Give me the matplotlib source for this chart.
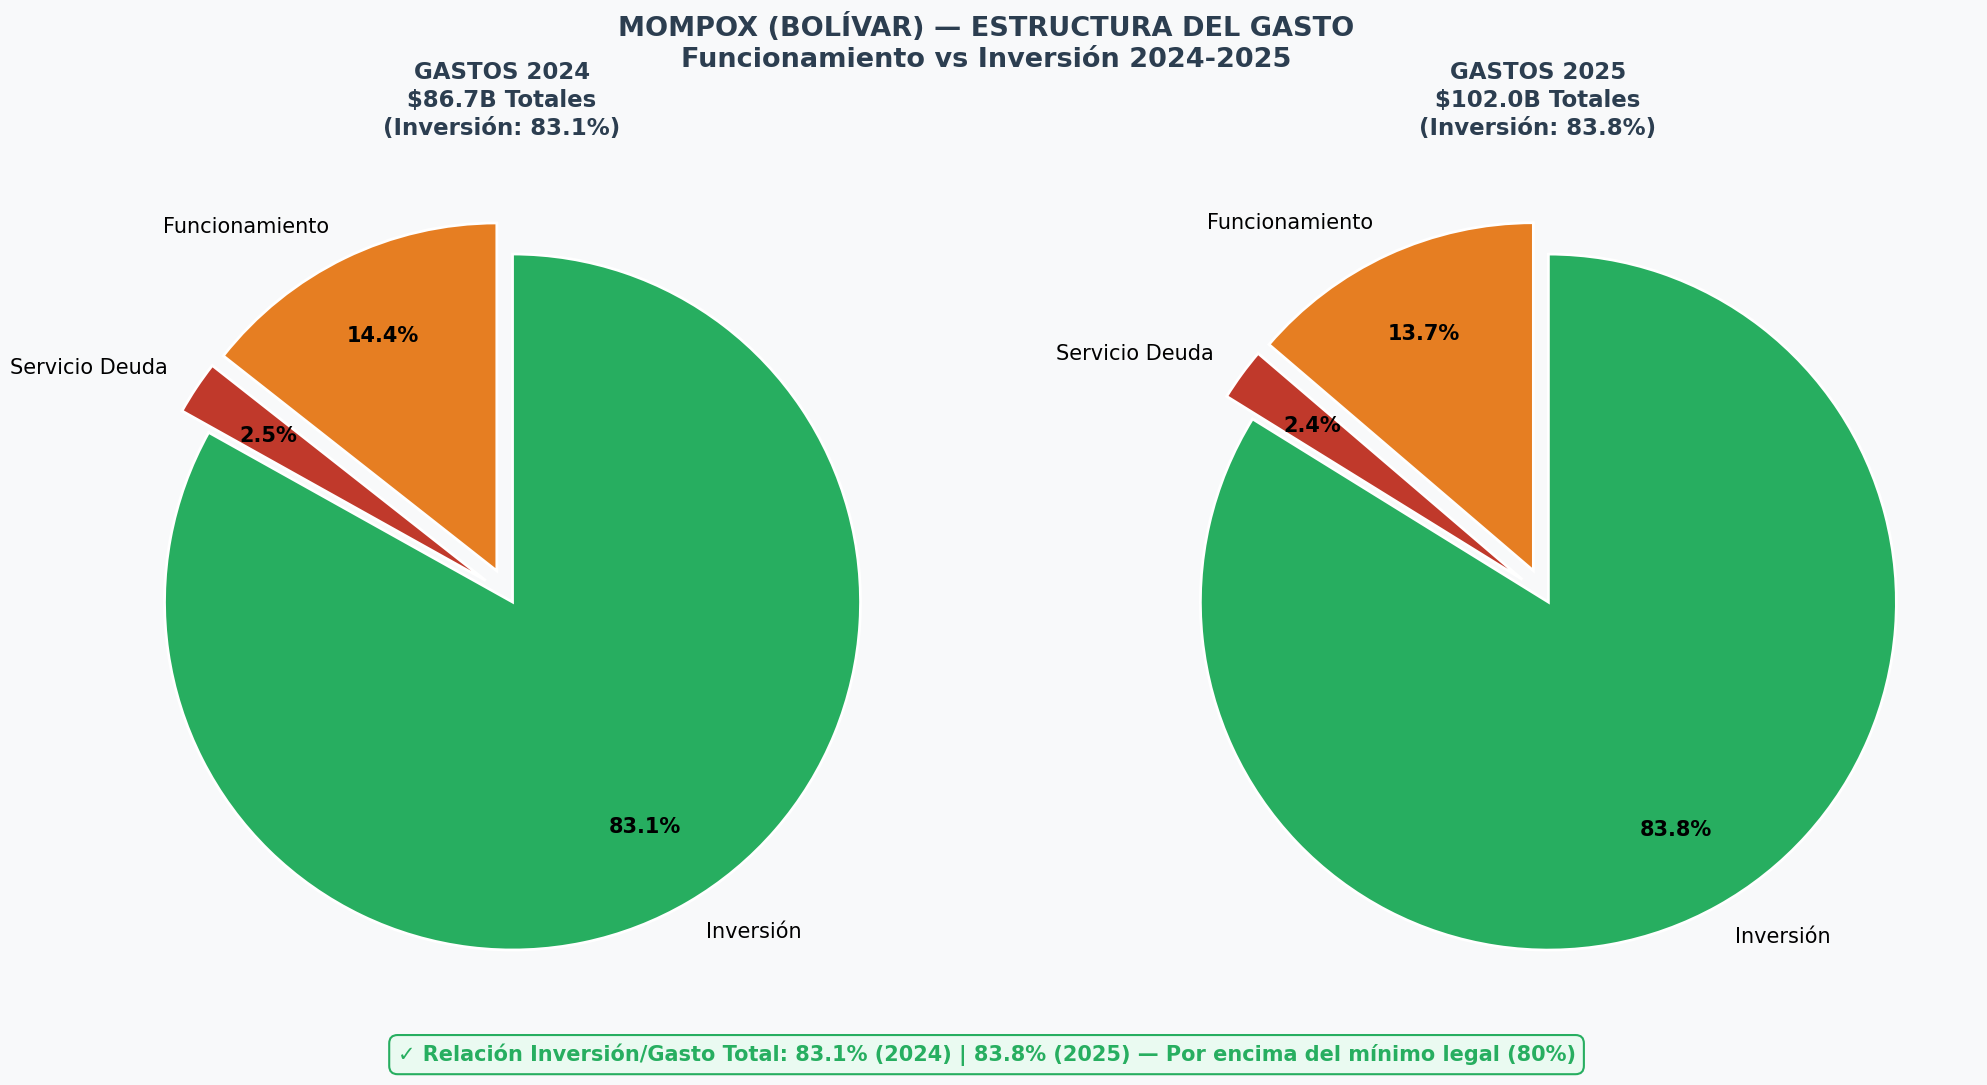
import matplotlib.pyplot as plt

# Datos: gasto Mompox (miles de millones COP)
categorias = ["Funcionamiento", "Servicio Deuda", "Inversión"]
gastos_2024 = [12.48, 2.17, 72.05]
gastos_2025 = [14.01, 2.49, 85.50]
totales = [86.7, 102.0]
pct_inversion = [83.1, 83.8]
anios = ["2024", "2025"]

colores = ["#e67e22", "#c0392b", "#27ae60"]
explode = (0.08, 0.08, 0.02)
fondo = "#f8f9fa"
oscuro = "#2c3e50"

fig = plt.figure(figsize=(19.87, 10.85), dpi=100, facecolor=fondo)

posiciones = [[74 / 1987, 54 / 1085, 870 / 1987, 870 / 1085],
              [1110 / 1987, 54 / 1085, 870 / 1987, 870 / 1085]]

for pos, valores, total, pinv, anio in zip(posiciones, [gastos_2024, gastos_2025],
                                          totales, pct_inversion, anios):
    ax = fig.add_axes(pos)
    ax.set_facecolor(fondo)
    wedges, texts, autotexts = ax.pie(
        valores, labels=categorias, colors=colores, explode=explode,
        startangle=90, autopct="%1.1f%%", pctdistance=0.75, labeldistance=1.1,
        wedgeprops=dict(edgecolor="white", linewidth=2),
        textprops=dict(fontsize=15))
    for t in autotexts:
        t.set_fontweight("bold")
        t.set_fontsize(15)
    ax.set_title(f"GASTOS {anio}\n${total:.1f}B Totales\n(Inversión: {pinv:.1f}%)",
                 fontsize=16.5, fontweight="bold", color=oscuro, pad=19, linespacing=1.28,
                 x=0.492)

fig.suptitle("MOMPOX (BOLÍVAR) — ESTRUCTURA DEL GASTO\nFuncionamiento vs Inversión 2024-2025",
             fontsize=19.5, fontweight="bold", color=oscuro, x=0.4965, y=0.988, linespacing=1.25)

fig.text(0.4965, 0.028,
         f"✓ Relación Inversión/Gasto Total: {pct_inversion[0]}% (2024) | {pct_inversion[1]}% (2025)"
         " — Por encima del mínimo legal (80%)",
         ha="center", va="center", fontsize=15, fontweight="bold", color="#27ae60",
         bbox=dict(boxstyle="round,pad=0.4", facecolor="#eafaf1", edgecolor="#27ae60", linewidth=1.5))

fig.savefig("out.png", dpi=100, facecolor=fondo)
